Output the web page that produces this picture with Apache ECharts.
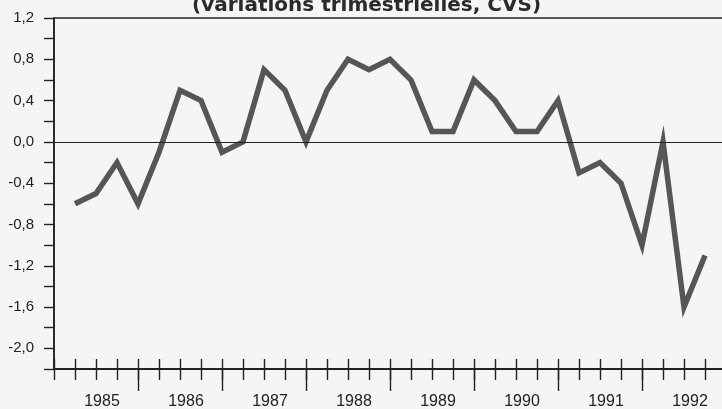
<!DOCTYPE html>
<html>
<head>
<meta charset="utf-8">
<script src="https://cdn.jsdelivr.net/npm/echarts@6/dist/echarts.min.js"></script>
<style>
html,body{margin:0;padding:0;background:#f5f5f3;}
#c{width:722px;height:409px;}
</style>
</head>
<body>
<div id="c"></div>
<script>
// Quarterly variations, 1985 Q1 .. 1992 Q3 (seasonally adjusted)
var years = ['1985','1986','1987','1988','1989','1990','1991','1992'];
var quarterIndex = [1,2,3,4,5,6,7,8,9,10,11,12,13,14,15,16,17,18,19,20,21,22,23,24,25,26,27,28,29,30,31];
var values = [-0.6,-0.5,-0.2,-0.6,-0.1,0.5,0.4,-0.1,0.0,0.7,0.5,0.0,0.5,0.8,0.7,0.8,0.6,0.1,0.1,0.6,0.4,0.1,0.1,0.4,-0.3,-0.2,-0.4,-1.0,0.0,-1.6,-1.1];
var yTicks = [-2.0,-1.6,-1.2,-0.8,-0.4,0.0,0.4,0.8,1.2];
var titleText = '(variations trimestrielles, CVS)';

var yearBoundaries = years.map(function(y,i){return (i+1)*4;});
var yearCenters = years.map(function(y,i){return i*4+2;});

var chart = echarts.init(document.getElementById('c'));
var axisColor = '#222';
var baseX = {
  type:'value', min:0, max:32, interval:1, position:'bottom',
  splitLine:{show:false},
  axisLine:{show:true, onZero:false, lineStyle:{color:axisColor, width:1.6}},
  axisLabel:{show:false}
};
var baseY = {
  type:'value', min:-2.2, max:1.2, interval:0.2, position:'left',
  splitLine:{show:false}
};
chart.setOption({
  backgroundColor:'#f5f5f3',
  animation:false,
  title:{
    text:titleText, left:192, top:-4, padding:0,
    textStyle:{fontFamily:'DejaVu Sans', fontWeight:'bold', fontSize:20, color:'#2a2a2a'}
  },
  grid:{left:54, top:18, right:-4, bottom:40, outerBoundsMode:'none', containLabel:false,
    show:true, borderColor:axisColor, borderWidth:1.6, backgroundColor:'transparent'},
  xAxis:[
    Object.assign({}, baseX, {axisTick:{show:true, inside:true, length:10, lineStyle:{color:axisColor, width:1.4}}}),
    Object.assign({}, baseX, {axisTick:{show:true, inside:false, length:11, lineStyle:{color:axisColor, width:1.4}}}),
    Object.assign({}, baseX, {
      axisTick:{show:true, inside:false, length:22, customValues:yearBoundaries, lineStyle:{color:axisColor, width:1.4}},
      axisLabel:{show:true, customValues:yearCenters, margin:25, padding:[0,0,0,12],
        fontFamily:'Liberation Sans', fontSize:16, color:axisColor,
        formatter:function(v){var k=Math.round((v-2)/4); return years[k]||'';}}
    })
  ],
  yAxis:[
    Object.assign({}, baseY, {
      axisLine:{show:true, onZero:false, lineStyle:{color:axisColor, width:1.6}},
      axisTick:{show:true, inside:false, length:10, lineStyle:{color:axisColor, width:1.4}},
      axisLabel:{show:false}
    }),
    Object.assign({}, baseY, {
      offset:12,
      axisLine:{show:false, onZero:false},
      axisTick:{show:false},
      axisLabel:{show:true, margin:8, fontFamily:'Liberation Sans', fontSize:15, color:axisColor, hideOverlap:false,
        formatter:function(v){
          for (var i=0;i<yTicks.length;i++){ if (Math.abs(yTicks[i]-v)<1e-6) return yTicks[i].toFixed(1).replace('.',','); }
          return '';
        }}
    })
  ],
  series:[{
    type:'line', xAxisIndex:0, yAxisIndex:0,
    data:values.map(function(v,i){return [quarterIndex[i], v];}),
    symbol:'none',
    lineStyle:{color:'#565656', width:5.5, join:'miter', cap:'butt'},
    markLine:{silent:true, symbol:'none', label:{show:false},
      lineStyle:{color:'#222', width:1.2, type:'solid'},
      data:[{yAxis:0}]},
    z:3
  }]
});
</script>
</body>
</html>
